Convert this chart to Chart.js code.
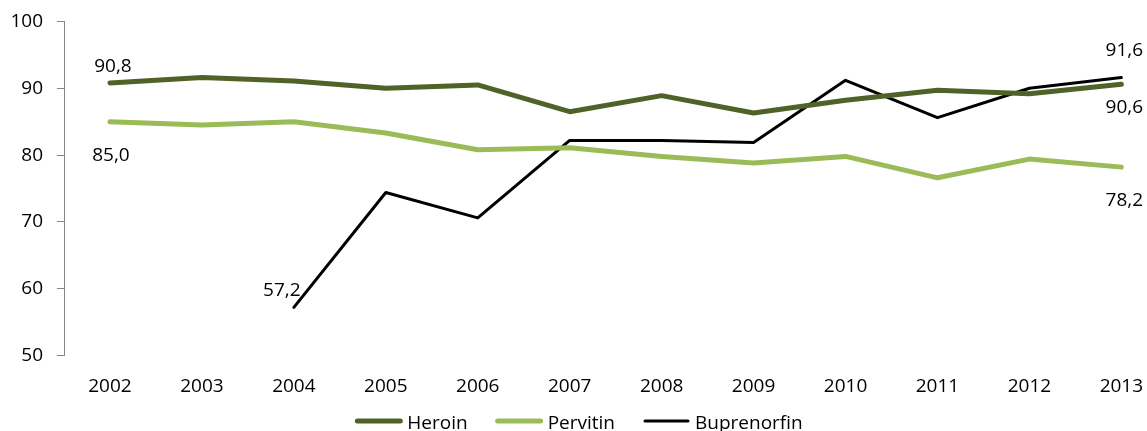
<!DOCTYPE html>
<html><head><meta charset="utf-8">
<script src="https://cdn.jsdelivr.net/npm/chart.js@4.4.0/dist/chart.umd.min.js"></script>
<style>html,body{margin:0;padding:0;background:#fff;overflow:hidden}#wrap{width:1147px;height:431px;position:relative}</style>
</head><body><div id="wrap"><canvas id="c" width="1147" height="431"></canvas></div>
<script>
const years = [2002, 2003, 2004, 2005, 2006, 2007, 2008, 2009, 2010, 2011, 2012, 2013];
const heroin = [90.8, 91.6, 91.1, 90.0, 90.5, 86.5, 88.9, 86.3, 88.2, 89.7, 89.2, 90.6];
const pervitin = [85.0, 84.5, 85.0, 83.3, 80.8, 81.1, 79.8, 78.8, 79.8, 76.6, 79.4, 78.2];
const buprenorfin = [null, null, 57.2, 74.4, 70.6, 82.2, 82.2, 81.9, 91.2, 85.6, 90.0, 91.6];
const yTicks = [50, 60, 70, 80, 90, 100];
const seriesNames = ['Heroin', 'Pervitin', 'Buprenorfin'];

const FONT = '"Open Sans", "Noto Sans", sans-serif';
const toPts = arr => years.map((y, i) => ({x: y, y: arr[i]})).filter(p => p.y !== null);

// which points carry value labels, with their offsets (styling, not data)
const labelSpecs = [
  {ds: 0, i: 0, dx: 3, dy: -16},
  {ds: 1, i: 0, dx: 1, dy: 34},
  {ds: 2, i: 2, dx: -12, dy: -17},
  {ds: 2, i: 11, dx: 3, dy: -27},
  {ds: 0, i: 11, dx: 3, dy: 23},
  {ds: 1, i: 11, dx: 3, dy: 33}
];
const fmt = v => v.toFixed(1).replace('.', ',');

const valueLabels = {
  id: 'valueLabels',
  afterDatasetsDraw(chart) {
    const ctx = chart.ctx, xs = chart.scales.x, ys = chart.scales.y;
    const src = [heroin, pervitin, buprenorfin];
    ctx.save();
    ctx.font = '19px ' + FONT;
    ctx.fillStyle = '#000';
    ctx.textAlign = 'center';
    ctx.textBaseline = 'middle';
    labelSpecs.forEach(s => {
      const v = src[s.ds][s.i];
      const px = xs.getPixelForValue(years[s.i]);
      const py = ys.getPixelForValue(v);
      ctx.fillText(fmt(v), px + s.dx, py + s.dy);
    });
    ctx.restore();
  }
};

const customLegend = {
  id: 'customLegend',
  afterDraw(chart) {
    const ctx = chart.ctx;
    ctx.save();
    ctx.font = '19px ' + FONT;
    const lineLen = 47, gapText = 5, gapItem = 28;
    const ds = chart.data.datasets;
    const widths = ds.map(d => lineLen + gapText + ctx.measureText(d.label).width);
    const total = widths.reduce((a, b) => a + b, 0) + gapItem * (ds.length - 1);
    let x = 579 - total / 2;
    const yLine = 421, yText = 428.5;
    ds.forEach((d, k) => {
      ctx.beginPath();
      ctx.strokeStyle = d.borderColor;
      ctx.lineWidth = d.borderWidth;
      ctx.lineCap = 'round';
      ctx.moveTo(x + 2, yLine);
      ctx.lineTo(x + lineLen - 2, yLine);
      ctx.stroke();
      ctx.fillStyle = '#000';
      ctx.textAlign = 'left';
      ctx.textBaseline = 'alphabetic';
      ctx.fillText(d.label, x + lineLen + gapText, yText);
      x += widths[k] + gapItem;
    });
    ctx.restore();
  }
};

new Chart(document.getElementById('c'), {
  type: 'line',
  data: {
    datasets: [
      {label: seriesNames[0], data: toPts(heroin), borderColor: '#4F6228', backgroundColor: '#4F6228', borderWidth: 5},
      {label: seriesNames[1], data: toPts(pervitin), borderColor: '#9BBB59', backgroundColor: '#9BBB59', borderWidth: 5},
      {label: seriesNames[2], data: toPts(buprenorfin), borderColor: '#000000', backgroundColor: '#000000', borderWidth: 3}
    ]
  },
  options: {
    responsive: false,
    animation: false,
    events: [],
    devicePixelRatio: 1,
    elements: {
      line: {tension: 0, fill: false, borderCapStyle: 'round', borderJoinStyle: 'round'},
      point: {radius: 0, hoverRadius: 0}
    },
    layout: {padding: {top: 21.5, left: 0, right: 10, bottom: 0}},
    plugins: {legend: {display: false}, tooltip: {enabled: false}},
    scales: {
      x: {
        type: 'linear', min: 2001.5, max: 2013.17,
        grid: {display: false, drawTicks: false},
        border: {display: false},
        afterBuildTicks: s => { s.ticks = years.map(v => ({value: v})); },
        ticks: {autoSkip: false, maxRotation: 0, padding: 20, color: '#000', font: {family: FONT, size: 19}, callback: v => String(v)},
        afterFit: s => { s.height = 75.5; s.paddingLeft = 0; s.paddingRight = 0; }
      },
      y: {
        min: 50, max: 100,
        afterBuildTicks: s => { s.ticks = yTicks.map(v => ({value: v})); },
        grid: {drawOnChartArea: false, drawTicks: true, tickLength: 7, color: '#868686', lineWidth: 1},
        border: {display: true, color: '#868686', width: 1},
        ticks: {padding: 14, color: '#000', font: {family: FONT, size: 19}, callback: v => String(v)},
        afterFit: s => { s.width = 64; s.paddingTop = 0; s.paddingBottom = 0; }
      }
    }
  },
  plugins: [valueLabels, customLegend]
});
</script>
</body></html>
